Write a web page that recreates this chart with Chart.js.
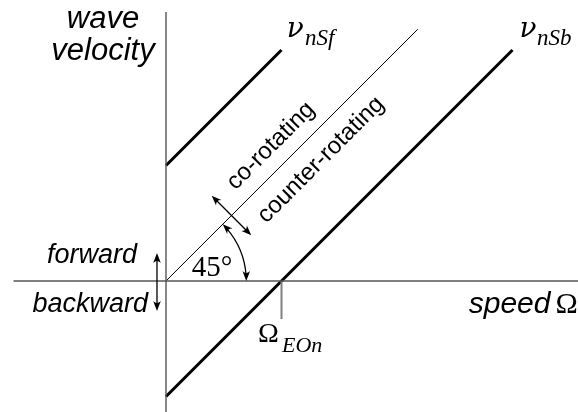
<!DOCTYPE html>
<html>
<head>
<meta charset="utf-8">
<style>
  html, body { margin: 0; padding: 0; background: #fff; }
  #wrap { width: 578px; height: 412px; }
</style>
<script src="https://cdn.jsdelivr.net/npm/chart.js@4/dist/chart.umd.min.js"></script>
</head>
<body>
<div id="wrap"><canvas id="c" width="578" height="412"></canvas></div>
<script>
// Campbell-style diagram: wave velocity of the n-th mode against shaft speed.
// Speeds are normalised by the critical speed Omega_EOn, so the forward and
// backward branches sit one unit above and below the 45 degree line.

const forwardSpeed     = [0, 1.0];   // nu_nSf = Omega + Omega_EOn
const forwardVelocity  = [1.0, 2.0];
const backwardSpeed    = [0, 3.0];   // nu_nSb = Omega - Omega_EOn
const backwardVelocity = [-1.0, 2.0];
const rotorSpeed       = [0, 2.18];  // nu = Omega (45 degree line)
const rotorVelocity    = [0, 2.18];

const speedAxis     = [-1.32, 3.57];
const velocityAxis  = [-1.14, 2.33];
const criticalSpeed = [1.0, 1.0];
const criticalTick  = [0, -0.33];

const pairs = (xs, ys) => xs.map((x, i) => ({ x: x, y: ys[i] }));

function lineSet(label, pts, color, width) {
  return {
    label: label, data: pts, showLine: true, borderColor: color,
    borderWidth: width, pointRadius: 0, fill: false, tension: 0,
    borderCapStyle: 'butt'
  };
}

const SANS = '"Liberation Sans", Arial, sans-serif';
const SERIF = '"Liberation Serif", "Times New Roman", serif';
const GREEK = '"DejaVu Serif", serif';

function arrowHead(ctx, x, y, ang) {
  const len = 10, half = 3.8;
  ctx.save();
  ctx.translate(x, y);
  ctx.rotate(ang);
  ctx.beginPath();
  ctx.moveTo(0, 0);
  ctx.lineTo(-len, -half);
  ctx.quadraticCurveTo(-len * 0.6, 0, -len, half);
  ctx.closePath();
  ctx.fill();
  ctx.restore();
}

function doubleArrow(ctx, x1, y1, x2, y2) {
  const ang = Math.atan2(y2 - y1, x2 - x1);
  ctx.beginPath();
  ctx.moveTo(x1 + Math.cos(ang) * 4, y1 + Math.sin(ang) * 4);
  ctx.lineTo(x2 - Math.cos(ang) * 4, y2 - Math.sin(ang) * 4);
  ctx.stroke();
  arrowHead(ctx, x2, y2, ang);
  arrowHead(ctx, x1, y1, ang + Math.PI);
}

const annotations = {
  id: 'annotations',
  afterDatasetsDraw(chart) {
    const ctx = chart.ctx;
    const sx = chart.scales.x, sy = chart.scales.y;
    const px = v => sx.getPixelForValue(v);
    const py = v => sy.getPixelForValue(v);
    const ox = px(0), oy = py(0);
    const unit = px(1) - px(0);

    ctx.save();
    ctx.fillStyle = '#000';
    ctx.strokeStyle = '#000';
    ctx.lineWidth = 1.3;

    // 45 degree angle arc
    const r = 0.695 * unit;
    ctx.beginPath();
    ctx.arc(ox, oy, r, -Math.PI / 4 + 0.07, -0.06);
    ctx.stroke();
    arrowHead(ctx, ox + r, oy, Math.PI / 2);
    const a0 = -Math.PI / 4;
    arrowHead(ctx, ox + r * Math.cos(a0), oy + r * Math.sin(a0), a0 - Math.PI / 2);

    // co-/counter-rotating arrow across the 45 degree line
    const cx = px(0.567), cy = py(0.567);
    const h = 28 / Math.SQRT2;
    doubleArrow(ctx, cx - h, cy - h, cx + h, cy + h);

    // forward/backward arrow next to the velocity axis
    doubleArrow(ctx, px(-0.078), py(-0.26), px(-0.078), py(0.242));

    // axis titles and labels
    ctx.textBaseline = 'alphabetic';
    ctx.font = 'italic 31px ' + SANS;
    ctx.textAlign = 'center';
    ctx.fillText('wave', px(-0.545), py(2.19));
    ctx.fillText('velocity', px(-0.545), py(1.915));

    ctx.font = 'italic 27px ' + SANS;
    ctx.textAlign = 'right';
    ctx.fillText('forward', px(-0.251), py(0.156));
    ctx.fillText('backward', px(-0.156), py(-0.268));

    ctx.font = '30px ' + SERIF;
    const omegaW = ctx.measureText('\u03A9').width;
    ctx.fillText('\u03A9', px(3.565), py(-0.277));
    ctx.font = 'italic 30px ' + SANS;
    ctx.fillText('speed', px(3.565) - omegaW - 5, py(-0.277));

    ctx.textAlign = 'left';
    ctx.font = '29px ' + SERIF;
    ctx.fillText('45\u00B0', px(0.222), py(0.043));
    ctx.font = '28px ' + SERIF;
    ctx.fillText('\u03A9', px(0.797), py(-0.528));
    ctx.font = 'italic 22px ' + SERIF;
    ctx.fillText('EOn', px(1.004), py(-0.615));

    // branch labels
    ctx.font = 'italic 28px ' + GREEK;
    ctx.fillText('\u03BD', px(1.045), py(2.113));
    ctx.fillText('\u03BD', px(3.06), py(2.113));
    ctx.font = 'italic 23px ' + SERIF;
    ctx.fillText('nSf', px(1.203), py(2.043));
    ctx.fillText('nSb', px(3.212), py(2.043));

    // rotation direction labels along the 45 degree line
    ctx.font = '24px ' + SANS;
    ctx.textAlign = 'center';
    ctx.textBaseline = 'middle';
    [['co-rotating', 0.909, 1.169], ['counter-rotating', 1.342, 1.048]].forEach(t => {
      ctx.save();
      ctx.translate(px(t[1]), py(t[2]));
      ctx.rotate(-Math.PI / 4);
      ctx.fillText(t[0], 0, 0);
      ctx.restore();
    });
    ctx.restore();
  }
};

new Chart(document.getElementById('c'), {
  type: 'scatter',
  data: {
    datasets: [
      lineSet('speed axis', pairs(speedAxis, [0, 0]), '#555', 1.4),
      lineSet('velocity axis', pairs([0, 0], velocityAxis), '#555', 1.4),
      lineSet('Omega_EOn', pairs(criticalSpeed, criticalTick), '#808080', 2),
      lineSet('nu = Omega', pairs(rotorSpeed, rotorVelocity), '#000', 1),
      lineSet('nu_nSf', pairs(forwardSpeed, forwardVelocity), '#000', 3),
      lineSet('nu_nSb', pairs(backwardSpeed, backwardVelocity), '#000', 3)
    ]
  },
  options: {
    responsive: false,
    devicePixelRatio: 1,
    animation: false,
    layout: { padding: 0 },
    plugins: { legend: { display: false }, tooltip: { enabled: false } },
    scales: {
      x: { type: 'linear', display: false, min: -1.4372, max: 3.5671 },
      y: { type: 'linear', display: false, min: -1.1342, max: 2.4329 }
    }
  },
  plugins: [annotations]
});
</script>
</body>
</html>
